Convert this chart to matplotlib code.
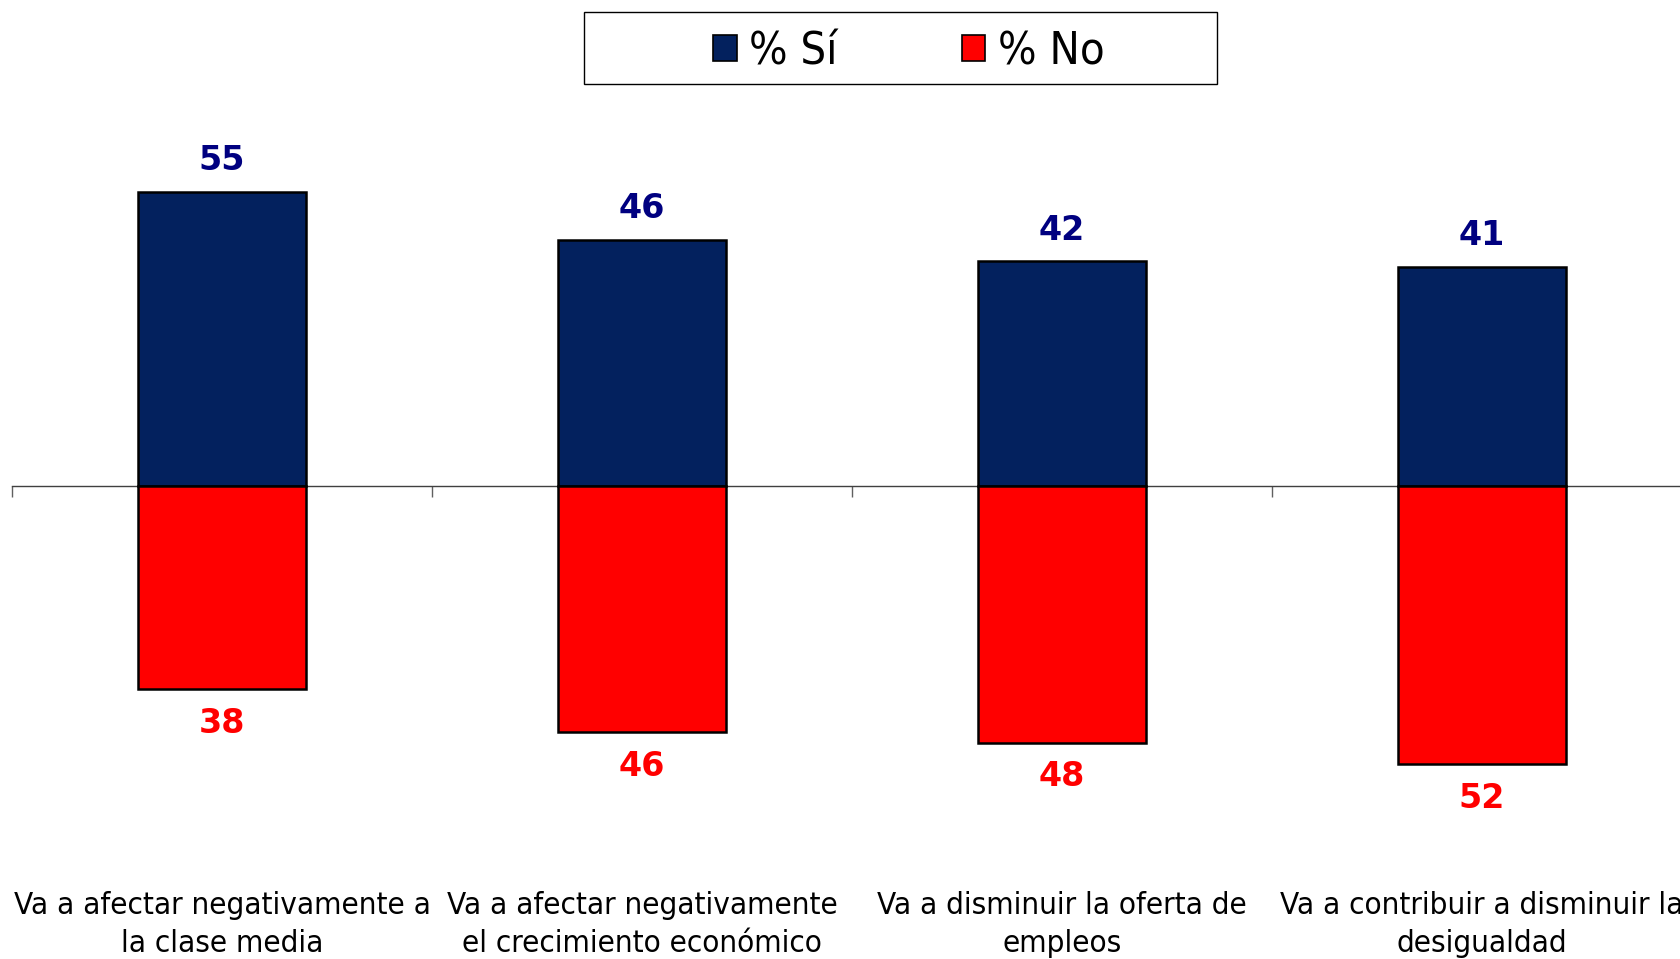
import matplotlib
matplotlib.use("Agg")
import matplotlib.pyplot as plt
from matplotlib import font_manager as fm
from matplotlib.patches import Patch, Rectangle
from matplotlib.transforms import blended_transform_factory

# ---------------- data ----------------
categories = [
    "Va a afectar negativamente a\nla clase media",
    "Va a afectar negativamente\nel crecimiento económico",
    "Va a disminuir la oferta de\nempleos",
    "Va a contribuir a disminuir la\ndesigualdad",
]
si_values = [55, 46, 42, 41]
no_values = [38, 46, 48, 52]
series_names = ["% Sí", "% No"]

# ---------------- fonts ----------------
names = {f.name for f in fm.fontManager.ttflist}
if "Liberation Sans Narrow" in names:
    NARROW = dict(family="Liberation Sans Narrow")
    LABEL_SIZE = 27
elif any(f.name == "DejaVu Sans" and "Condensed" in f.fname for f in fm.fontManager.ttflist):
    NARROW = dict(family="DejaVu Sans", stretch="condensed")
    LABEL_SIZE = 22.5
else:
    NARROW = dict(family="Liberation Sans")
    LABEL_SIZE = 23

W, H = 1681, 959
fig = plt.figure(figsize=(W / 100, H / 100), dpi=100)

# axes geometry (pixel based)
ax_left, ax_right = 12, 1692
ax_top, ax_bottom = 100, 800
zero_y = 486
ppu = 5.35
ymax = (zero_y - ax_top) / ppu
ymin = -(ax_bottom - zero_y) / ppu

ax = fig.add_axes([ax_left / W, 1 - ax_bottom / H, (ax_right - ax_left) / W, (ax_bottom - ax_top) / H])
ax.set_xlim(-0.5, len(categories) - 0.5)
ax.set_ylim(ymin, ymax)

x = list(range(len(categories)))
navy = "#03215E"
red = "#FF0000"
neg_no = [-v for v in no_values]

ax.bar(x, si_values, width=0.40, color=navy, edgecolor="black", linewidth=1.8, zorder=3)
ax.bar(x, neg_no, width=0.40, color=red, edgecolor="black", linewidth=1.8, zorder=3)

# axis line and ticks
for s in ["top", "right", "left"]:
    ax.spines[s].set_visible(False)
ax.spines["bottom"].set_position(("data", 0))
ax.spines["bottom"].set_color("#404040")
ax.spines["bottom"].set_linewidth(1.0)
ax.spines["bottom"].set_zorder(2)
ax.set_yticks([])
ax.set_xticks([i - 0.5 for i in range(len(categories) + 1)])
ax.set_xticklabels([])
ax.tick_params(axis="x", direction="out", length=8, width=1.0, color="#606060")

# value labels
for xi, v in zip(x, si_values):
    ax.annotate(f"{v}", (xi, v), xytext=(0, 22.5), textcoords="offset points",
                ha="center", va="center", fontsize=24, fontweight="bold",
                color="#000080", family="DejaVu Sans")
for xi, v in zip(x, no_values):
    ax.annotate(f"{v}", (xi, -v), xytext=(0, -24.5), textcoords="offset points",
                ha="center", va="center", fontsize=24, fontweight="bold",
                color=red, family="DejaVu Sans")

# category labels (bottom)
trans = blended_transform_factory(ax.transData, fig.transFigure)
baselines = [914, 952]
for xi, lab in zip(x, categories):
    for line, by in zip(lab.split("\n"), baselines):
        ax.text(xi, 1 - by / H, line, transform=trans, ha="center", va="baseline",
                fontsize=LABEL_SIZE, color="black", clip_on=False, **NARROW)

# legend box
bx0, bx1, by0, by1 = 584, 1217, 12, 84
fig.patches.append(Rectangle((bx0 / W, 1 - by1 / H), (bx1 - bx0) / W, (by1 - by0) / H,
                             transform=fig.transFigure, facecolor="white",
                             edgecolor="black", linewidth=1.0, zorder=1))
handles = [Patch(facecolor=navy, edgecolor="black", linewidth=1.2, label=series_names[0]),
           Patch(facecolor=red, edgecolor="black", linewidth=1.2, label=series_names[1])]
fig.legend(handles=handles, loc="center",
           bbox_to_anchor=((bx0 + bx1) / 2 / W + 0.005, 1 - (by0 + by1) / 2 / H - 0.004),
           ncol=2, frameon=False, prop=fm.FontProperties(size=32.5, **NARROW),
           handlelength=0.52, handleheight=0.52, handletextpad=0.28, columnspacing=2.75,
           borderpad=0.1)

fig.savefig("out.png", dpi=100)
